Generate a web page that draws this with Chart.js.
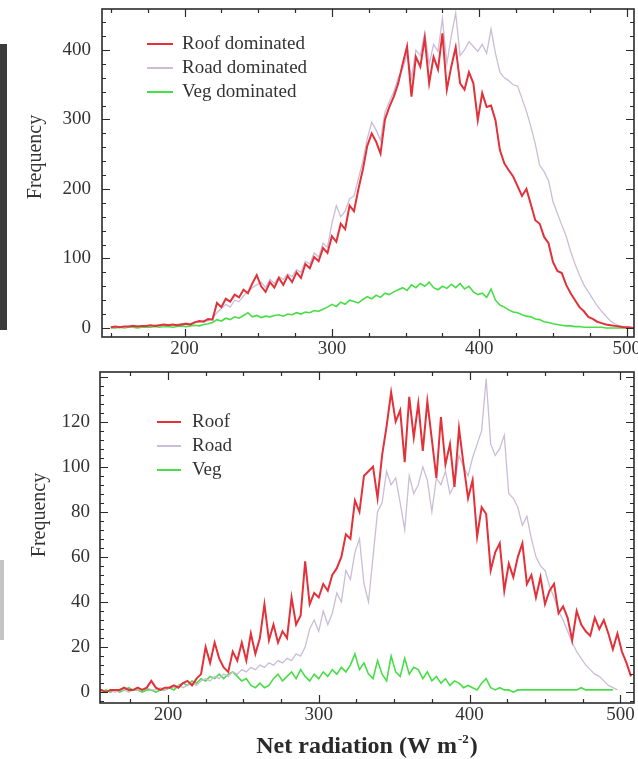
<!DOCTYPE html>
<html>
<head>
<meta charset="utf-8">
<script src="https://cdn.jsdelivr.net/npm/chart.js@4.4.0/dist/chart.umd.min.js"></script>
<style>
    html, body { margin: 0; padding: 0; background: #fff; }
    body { width: 638px; height: 759px; position: relative; overflow: hidden; }
    .panel { position: absolute; left: 0; }
    .edge { position: absolute; left: 0; }
</style>
</head>
<body>
<div class="edge" style="top:44px;width:7px;height:286px;background:#3b3b3b;"></div>
<div class="edge" style="top:560px;width:4px;height:80px;background:#c4c4c4;"></div>
<div class="panel" style="top:0;"><canvas id="top-chart" width="638" height="360"></canvas></div>
<div class="panel" style="top:360px;"><canvas id="bottom-chart" width="638" height="399"></canvas></div>
<script>
//  DATA

// histogram bins (W m-2)
const bins = [150,153,156,159,162,165,168,171,174,177,180,183,186,189,192,195,198,201,204,207,
    210,213,216,219,222,225,228,231,234,237,240,243,246,249,252,255,258,261,264,267,
    270,273,276,279,282,285,288,291,294,297,300,303,306,309,312,315,318,321,324,327,
    330,333,336,339,342,345,348,351,354,357,360,363,366,369,372,375,378,381,384,387,
    390,393,396,399,402,405,408,411,414,417,420,423,426,429,432,435,438,441,444,447,
    450,453,456,459,462,465,468,471,474,477,480,483,486,489,492,495,498,501,504,507];

const xTicks = [200, 300, 400, 500];
const topYTicks = [0, 100, 200, 300, 400];
const bottomYTicks = [0, 20, 40, 60, 80, 100, 120];

// top panel
const roofDominated = [1,2,1,2,2,3,2,3,3,4, 3,4,5,4,5,4,5,6,5,8,
    10,9,13,12,36,30,42,38,48,44, 55,50,64,76,60,52,66,58,72,62,
    75,66,80,72,92,86,102,96,115,108, 132,124,150,142,176,168,200,228,262,280,
    268,251,300,318,333,352,380,405,333,390, 376,417,352,390,372,424,343,376,404,352,
    343,368,352,299,338,318,320,299,256,237, 227,218,204,190,200,178,155,150,131,122,
    95,82,79,62,50,40,30,24,16,13, 9,7,5,4,3,2,1,1,0,0];

const roadDominated = [1,1,2,1,2,2,3,2,3,3, 4,4,3,5,4,5,6,7,6,9,
    8,11,10,14,22,28,34,30,40,38, 46,52,58,62,66,58,70,64,74,70,
    78,74,84,80,96,92,108,102,122,116, 150,176,160,168,186,190,215,240,272,296,
    285,270,310,326,340,360,372,395,360,400, 392,425,380,408,398,445,380,420,453,392,
    400,412,405,398,408,395,430,395,368,360, 356,350,348,330,312,290,265,234,225,212,
    182,165,148,132,110,92,76,62,52,42, 32,24,17,10,6,3,2,1,1,0];

const vegDominated = [0,0,1,0,1,1,0,1,1,1, 2,1,2,2,1,2,3,2,3,4,
    3,5,6,8,12,10,14,12,16,14, 18,22,16,18,15,17,16,18,19,17,
    20,19,22,20,23,22,25,24,27,30, 34,31,37,34,40,38,36,41,45,42,
    47,44,50,48,52,55,58,54,62,58, 64,60,66,58,55,60,57,63,58,64,
    56,60,52,48,50,44,56,40,33,30, 26,23,22,19,17,16,13,12,9,8,
    6,5,4,3,3,2,2,1,1,1, 1,1,0,0,0,0,0,0,0,0];

// bottom panel
const roof = [1,1,1,0,1,1,1,2,1,1, 2,1,2,5,2,1,2,2,3,2,
    4,5,3,6,8,20,13,22,15,11, 9,18,14,22,14,26,17,24,39,23,
    30,22,27,24,42,30,34,58,39,44, 42,48,45,52,55,60,70,68,85,80,
    96,98,100,86,105,118,133,120,125,102, 131,113,128,107,129,112,95,122,101,110,
    91,117,101,86,94,69,82,79,54,62, 66,45,57,51,60,66,48,52,42,51,
    39,45,48,35,38,33,23,36,30,27, 25,33,28,32,26,19,26,18,13,7];

const road = [0,0,1,0,1,0,1,1,0,1, 1,1,2,1,1,2,1,2,2,3,
    2,3,4,3,5,6,5,7,6,8, 7,9,8,10,9,11,10,12,11,13,
    12,14,13,15,14,17,16,20,28,32, 27,36,30,35,44,40,54,50,62,68,
    48,40,60,80,84,98,92,95,84,72, 96,88,92,100,94,80,95,92,98,88,
    92,105,100,96,104,110,116,139,110,105, 108,114,88,86,82,74,78,68,60,56,
    54,47,42,36,32,27,22,18,15,12, 10,8,7,5,3,2,1,null,null,null];

const veg = [0,0,0,1,0,1,0,1,2,1, 1,0,1,1,0,1,1,2,1,3,
    4,3,5,4,6,5,7,6,8,6, 8,9,7,5,6,3,2,4,2,3,
    6,8,5,7,9,6,10,7,5,8, 6,9,7,10,8,11,9,12,17,10,
    13,8,6,14,8,5,16,9,7,15, 8,11,10,6,9,5,7,4,6,3,
    5,4,2,3,2,1,4,6,2,1, 2,1,1,0,1,1,1,1,1,1,
    1,1,1,1,1,1,1,1,2,1, 1,1,1,1,1,1,null,null,null,null];

//  STYLE

const serif = "'Liberation Serif', 'DejaVu Serif', serif";
const inkColor = '#2b2b2b';
const roofColor = '#e3313a';
const roadColor = '#cbbcd8';
const vegColor = '#48de48';

// frame, inward ticks, legend and axis titles
const framePlugin = {
    id: 'frame',
    afterDraw(chart, args, opts) {
        const ctx = chart.ctx;
        const a = chart.chartArea;
        const xs = chart.scales.x;
        const ys = chart.scales.y;
        ctx.save();

        // inward tick marks on all four sides
        ctx.strokeStyle = inkColor;
        ctx.lineWidth = 1.2;
        ctx.beginPath();
        for (let v = Math.ceil(xs.min / opts.xMinor) * opts.xMinor; v <= xs.max; v += opts.xMinor) {
            const px = Math.round(xs.getPixelForValue(v)) + 0.5;
            const len = v % opts.xMajor === 0 ? 8 : 4;
            ctx.moveTo(px, a.bottom); ctx.lineTo(px, a.bottom - len);
            ctx.moveTo(px, a.top); ctx.lineTo(px, a.top + len);
        }
        for (let v = Math.ceil(ys.min / opts.yMinor) * opts.yMinor; v <= ys.max; v += opts.yMinor) {
            const py = Math.round(ys.getPixelForValue(v)) + 0.5;
            const len = v % opts.yMajor === 0 ? 8 : 4;
            ctx.moveTo(a.left, py); ctx.lineTo(a.left + len, py);
            ctx.moveTo(a.right, py); ctx.lineTo(a.right - len, py);
        }
        ctx.stroke();

        // plot box
        ctx.lineWidth = 1.6;
        ctx.strokeRect(a.left, a.top, a.right - a.left, a.bottom - a.top);

        // legend
        const lg = opts.legend;
        ctx.font = '19px ' + serif;
        ctx.textBaseline = 'middle';
        ctx.textAlign = 'left';
        chart.data.datasets.forEach((ds, i) => {
            const y = lg.y + i * lg.dy;
            ctx.strokeStyle = ds.borderColor;
            ctx.lineWidth = 2;
            ctx.beginPath();
            ctx.moveTo(lg.x, y); ctx.lineTo(lg.x + lg.len, y);
            ctx.stroke();
            ctx.fillStyle = '#333';
            ctx.fillText(ds.label, lg.textX, y);
        });

        // y title
        ctx.save();
        ctx.translate(opts.yTitle.x, opts.yTitle.y);
        ctx.rotate(-Math.PI / 2);
        ctx.textAlign = 'center';
        ctx.fillStyle = '#333';
        ctx.font = '20px ' + serif;
        ctx.fillText('Frequency', 0, 0);
        ctx.restore();

        // x title with a small raised exponent
        if (opts.xTitle) {
            const t = opts.xTitle;
            const big = 'bold 24px ' + serif;
            const small = 'bold 13px ' + serif;
            ctx.fillStyle = '#2a2a2a';
            ctx.textAlign = 'left';
            ctx.textBaseline = 'alphabetic';
            ctx.font = big;
            const w1 = ctx.measureText(t.text).width;
            const w3 = ctx.measureText(t.close).width;
            ctx.font = small;
            const w2 = ctx.measureText(t.exp).width + 2;
            let x0 = t.x - (w1 + w2 + w3) / 2;
            ctx.font = big;
            ctx.fillText(t.text, x0, t.y);
            ctx.font = small;
            ctx.fillText(t.exp, x0 + w1 + 1, t.y - 10);
            ctx.font = big;
            ctx.fillText(t.close, x0 + w1 + w2, t.y);
        }
        ctx.restore();
    }
};

function makeChart(canvasId, series, cfg) {
    return new Chart(document.getElementById(canvasId), {
        type: 'line',
        data: {
            datasets: series.map(s => ({
                label: s.label,
                data: bins.map((b, i) => ({ x: b, y: s.values[i] })),
                borderColor: s.color,
                borderWidth: s.width,
                pointRadius: 0,
                tension: 0,
                fill: false
            }))
        },
        options: {
            responsive: false,
            animation: false,
            events: [],
            layout: { padding: { top: cfg.top, right: 4, left: 0, bottom: 0 } },
            plugins: {
                legend: { display: false },
                tooltip: { enabled: false },
                frame: cfg.frame
            },
            scales: {
                x: {
                    type: 'linear',
                    min: cfg.xMin,
                    max: cfg.xMax,
                    grid: { display: false, drawTicks: false },
                    border: { display: false },
                    ticks: { color: '#333', padding: 1, maxRotation: 0, autoSkip: false,
                        font: { family: serif, size: 19 } },
                    afterBuildTicks: s => { s.ticks = xTicks.map(v => ({ value: v })); },
                    afterFit: s => { s.height = cfg.xHeight; s.paddingLeft = 0; s.paddingRight = 0; }
                },
                y: {
                    min: cfg.yMin,
                    max: cfg.yMax,
                    grid: { display: false, drawTicks: false },
                    border: { display: false },
                    ticks: { color: '#333', padding: cfg.yPad,
                        font: { family: serif, size: 19 } },
                    afterBuildTicks: s => { s.ticks = cfg.yTicks.map(v => ({ value: v })); },
                    afterFit: s => { s.width = cfg.yWidth; s.paddingTop = 0; s.paddingBottom = 0; }
                }
            }
        },
        plugins: [framePlugin]
    });
}

var topChart = makeChart('top-chart', [
    { label: 'Roof dominated', values: roofDominated, color: roofColor, width: 2 },
    { label: 'Road dominated', values: roadDominated, color: roadColor, width: 1.3 },
    { label: 'Veg dominated', values: vegDominated, color: vegColor, width: 1.6 }
], {
    top: 9, xHeight: 23, yWidth: 102, yPad: 11,
    xMin: 144, xMax: 505, yMin: -13, yMax: 459, yTicks: topYTicks,
    frame: {
        xMajor: 100, xMinor: 25, yMajor: 100, yMinor: 20,
        legend: { x: 147, y: 44, dy: 24, len: 26, textX: 182 },
        yTitle: { x: 36, y: 157 }
    }
});

var bottomChart = makeChart('bottom-chart', [
    { label: 'Roof', values: roof, color: roofColor, width: 2 },
    { label: 'Road', values: road, color: roadColor, width: 1.3 },
    { label: 'Veg', values: veg, color: vegColor, width: 1.6 }
], {
    top: 12, xHeight: 56, yWidth: 100, yPad: 10,
    xMin: 155, xMax: 509, yMin: -4.8, yMax: 142, yTicks: bottomYTicks,
    frame: {
        xMajor: 100, xMinor: 25, yMajor: 20, yMinor: 4,
        legend: { x: 157, y: 62, dy: 24, len: 24, textX: 192 },
        yTitle: { x: 40, y: 155 },
        xTitle: { text: 'Net radiation (W m', exp: '-2', close: ')', x: 367, y: 393 }
    }
});
</script>
</body>
</html>
